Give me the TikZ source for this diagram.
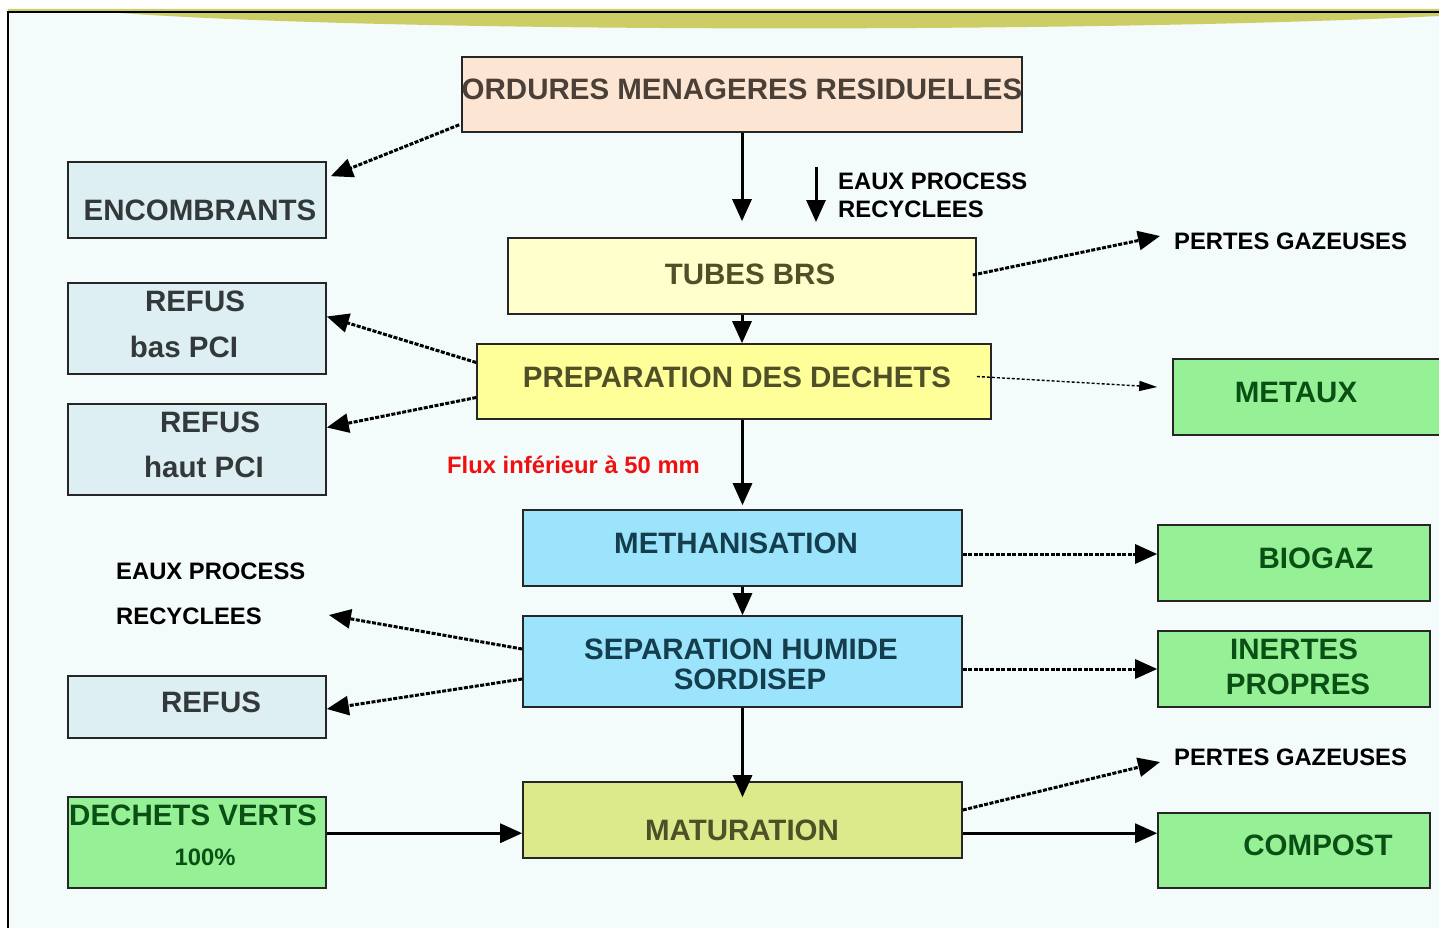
\documentclass[tikz,border=0pt]{standalone}
\usepackage{fontspec}
\setmainfont{Liberation Sans}
\usetikzlibrary{arrows.meta,calc,fit}
\definecolor{cBg}{HTML}{F3FBFB}
\definecolor{cBand}{HTML}{CDCD66}
\definecolor{cPeach}{HTML}{FCE5D3}
\definecolor{cLY}{HTML}{FFFFCC}
\definecolor{cY}{HTML}{FFFF99}
\definecolor{cCy}{HTML}{9CE4FC}
\definecolor{cOl}{HTML}{DCEA8C}
\definecolor{cPB}{HTML}{DDEFF2}
\definecolor{cG}{HTML}{96F096}
\definecolor{tPeach}{HTML}{4A4038}
\definecolor{tYel}{HTML}{505028}
\definecolor{tCy}{HTML}{143E4E}
\definecolor{tPB}{HTML}{33393B}
\definecolor{tG}{HTML}{0A4F14}
\definecolor{tRed}{HTML}{F01010}
\begin{document}
\begin{tikzpicture}[x=1pt,y=-1pt,
  box/.style={draw=black!85, line width=1.6pt, inner sep=0pt, rectangle},
  bt/.style={inner sep=0pt, font=\fontsize{29.5}{33}\selectfont\bfseries},
  lt/.style={inner sep=0pt, font=\fontsize{23.8}{27}\selectfont\bfseries, text=black, anchor=west},
  sarr/.style={line width=3pt, -{Triangle[length=22pt,width=19pt]}},
  darr/.style={line width=3pt, dash pattern=on 4pt off 1.5pt, -{Triangle[length=22pt,width=19pt]}},
  tarr/.style={line width=1.4pt, dash pattern=on 3pt off 2pt, -{Triangle[length=18pt,width=10pt]}}]
\useasboundingbox (0,0) rectangle (1439,928);
\fill[white] (0,0) rectangle (1439,928);
\fill[cBg] (8,12) rectangle (1439,928);
\fill[cBand] (8,9) -- (1439,9) -- (1439,16) .. controls (1100,33) and (400,33) .. (120,13) -- (8,13) -- cycle;
\draw[line width=1.5pt] (8,928) -- (8,12) -- (1439,12);

% boxes
\node[box, fill=cPeach, fit={(462,57)(1022,132)}] (ord) {};
\node[box, fill=cLY, fit={(508,238)(976,314)}] (tub) {};
\node[box, fill=cY, fit={(477,344)(991,419)}] (prep) {};
\node[box, fill=cCy, fit={(523,510)(962,586)}] (meth) {};
\node[box, fill=cCy, fit={(523,616)(962,707)}] (sep) {};
\node[box, fill=cOl, fit={(523,782)(962,858)}] (mat) {};
\node[box, fill=cPB, fit={(68,162)(326,238)}] (enc) {};
\node[box, fill=cPB, fit={(68,283)(326,374)}] (rbas) {};
\node[box, fill=cPB, fit={(68,404)(326,495)}] (rhaut) {};
\node[box, fill=cPB, fit={(68,676)(326,738)}] (ref) {};
\node[box, fill=cG, fit={(68,797)(326,888)}] (dv) {};
\node[box, fill=cG, fit={(1173,359)(1446,435)}] (met) {};
\node[box, fill=cG, fit={(1158,525)(1430,601)}] (bio) {};
\node[box, fill=cG, fit={(1158,631)(1430,707)}] (ine) {};
\node[box, fill=cG, fit={(1158,813)(1430,888)}] (com) {};

% box texts
\node[bt, text=tPeach] (ordT) at (742,89) {ORDURES MENAGERES RESIDUELLES};
\node[bt, text=tYel] (tubT) at (750,274) {TUBES BRS};
\node[bt, text=tYel] (prepT) at (737,377) {PREPARATION DES DECHETS};
\node[bt, text=tCy] (methT) at (736,543) {METHANISATION};
\node[bt, text=tCy] (sepT1) at (741,649) {SEPARATION HUMIDE};
\node[bt, text=tCy] (sepT2) at (750,679) {SORDISEP};
\node[bt, text=tYel] (matT) at (742,830) {MATURATION};
\node[bt, text=tPB] (encT) at (200,210) {ENCOMBRANTS};
\node[bt, text=tPB] (rbasT1) at (195,301) {REFUS};
\node[bt, text=tPB] (rbasT2) at (184,347) {bas PCI};
\node[bt, text=tPB] (rhautT1) at (210,422) {REFUS};
\node[bt, text=tPB] (rhautT2) at (204,467) {haut PCI};
\node[bt, text=tPB] (refT) at (211,702) {REFUS};
\node[bt, text=tG] (dvT1) at (193,815) {DECHETS VERTS};
\node[inner sep=0pt, font=\fontsize{23.8}{27}\selectfont\bfseries, text=tG] (dvT2) at (205,857) {100\%};
\node[bt, text=tG] (metT) at (1296,392) {METAUX};
\node[bt, text=tG] (bioT) at (1316,558) {BIOGAZ};
\node[bt, text=tG] (ineT1) at (1294,649) {INERTES};
\node[bt, text=tG] (ineT2) at (1298,684) {PROPRES};
\node[bt, text=tG] (comT) at (1318,845) {COMPOST};

% free labels
\node[lt] (eau1) at (838,181) {EAUX PROCESS};
\node[lt] (eau2) at (838,209) {RECYCLEES};
\node[lt] (pg1) at (1174,241) {PERTES GAZEUSES};
\node[lt] (pg2) at (1174,757) {PERTES GAZEUSES};
\node[lt] (eaL1) at (116,571) {EAUX PROCESS};
\node[lt] (eaL2) at (116,616) {RECYCLEES};
\node[lt, text=tRed] (flux) at (447,465) {Flux inférieur à 50 mm};

% solid connectors
\draw[sarr] (ord.south) -- ($(tub.north)+(0,-16)$);
\coordinate (e1) at (816,167);
\coordinate (e2) at (816,222);
\draw[sarr] (e1) -- (e2);
\draw[sarr] (tub.south) -- (tub.south |- prep.north);
\draw[sarr] (meth.north |- prep.south) -- ($(meth.north)+(0,-4)$);
\draw[sarr] (meth.south) -- (sep.north);
\draw[sarr] (sep.south) -- ($(mat.north)+(0,16)$);
\draw[sarr] ($(dv.north east)+(0,37)$) -- ($(mat.north west)+(0,52)$);
\draw[sarr] ($(mat.north east)+(0,52)$) -- ($(com.north west)+(0,21)$);

% dotted connectors
\draw[darr] ($(ord.south west)+(-2,-8)$) -- ($(enc.north east)+(4,15)$);
\draw[darr] ($(tub.east)+(-4,-1)$) -- ($(pg1.west)+(-14,-5)$);
\draw[tarr] ($(prep.east)+(-15,-5)$) -- ($(met.west)+(-15,-10)$);
\draw[darr] ($(prep.west)+(0,-19)$) -- ($(rbas.east)+(0,-12)$);
\draw[darr] ($(prep.west)+(0,16)$) -- ($(rhaut.east)+(0,-22)$);
\draw[darr] ($(meth.east)+(0,6)$) -- ($(bio.west)+(0,-9)$);
\draw[darr] ($(sep.west)+(0,-12.5)$) -- ($(eaL2.east)+(67,-1)$);
\draw[darr] ($(sep.west)+(0,17.5)$) -- ($(ref.east)+(0,2)$);
\draw[darr] ($(sep.east)+(0,7.5)$) -- (ine.west);
\draw[darr] ($(mat.east)+(0,-10)$) -- ($(pg2.west)+(-14,5)$);
\end{tikzpicture}
\end{document}
